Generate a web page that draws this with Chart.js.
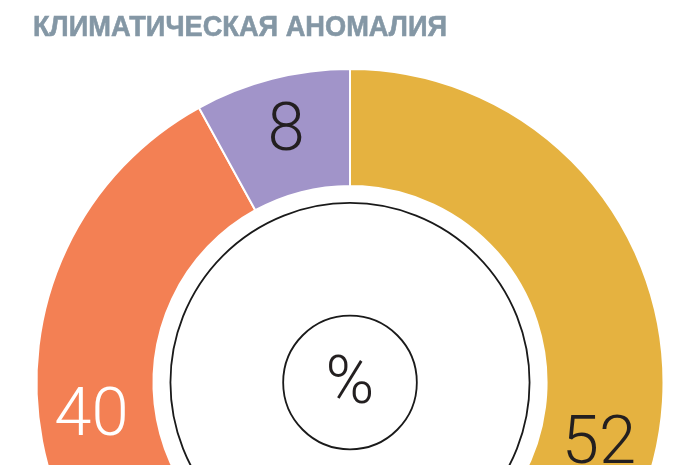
<!DOCTYPE html>
<html><head><meta charset="utf-8">
<script src="https://cdn.jsdelivr.net/npm/chart.js@4"></script>
<style>
html,body{margin:0;padding:0;background:#fff;overflow:hidden;width:700px;height:465px;}
#wrap{position:absolute;left:0;top:0;width:700px;height:697px;}
#title{position:absolute;left:33px;top:7px;font-family:"Liberation Sans","Arial",sans-serif;font-weight:bold;font-size:29px;color:#8497a5;-webkit-text-stroke:0.6px #8497a5;white-space:nowrap;line-height:38px;transform-origin:0 0;}
</style></head>
<body>
<div id="wrap"><canvas id="c" width="700" height="697"></canvas></div>
<div id="title">КЛИМАТИЧЕСКАЯ АНОМАЛИЯ</div>
<script>
const categories = ["Жёлтый", "Оранжевый", "Фиолетовый"];
const values = [52, 40, 8];
const colors = ["#e5b240", "#f38054", "#a194c9"];
const labelColors = ["#231f20", "#ffffff", "#231f20"];
const labelPos = [0.558, 0.52, 0.5];
const centerText = "%";

(function fitTitle(){
  const t = document.getElementById('title');
  const w = t.getBoundingClientRect().width;
  t.style.transform = 'scaleX(' + (414 / w) + ')';
})();

const numFont = '300 67px "Roboto", "Lato", "Liberation Sans", sans-serif';

const decor = {
  id: 'decor',
  afterDatasetsDraw(chart) {
    const ctx = chart.ctx;
    const meta = chart.getDatasetMeta(0);
    const a0 = meta.data[0];
    const cx = a0.x, cy = a0.y;
    const inner = a0.innerRadius;
    ctx.save();
    ctx.strokeStyle = '#1a1a1a';
    ctx.lineWidth = 1.8;
    ctx.beginPath(); ctx.arc(cx, cy, inner - 17, 0, Math.PI * 2); ctx.stroke();
    ctx.beginPath(); ctx.arc(cx, cy, inner * 0.34, 0, Math.PI * 2); ctx.stroke();
    ctx.fillStyle = '#231f20';
    ctx.font = '300 66px "Roboto", "Lato", "Liberation Sans", sans-serif';
    ctx.textAlign = 'center'; ctx.textBaseline = 'middle';
    ctx.fillText(centerText, cx, cy + 4);
    ctx.font = numFont;
    meta.data.forEach((arc, i) => {
      const ang = arc.startAngle + (arc.endAngle - arc.startAngle) * labelPos[i];
      const r = (arc.innerRadius + arc.outerRadius) / 2 + 2;
      ctx.fillStyle = labelColors[i];
      ctx.fillText(String(values[i]), cx + r * Math.cos(ang) - (i === 1 ? 4 : 0), cy + r * Math.sin(ang));
    });
    ctx.restore();
  }
};

new Chart(document.getElementById('c'), {
  type: 'doughnut',
  data: {
    labels: categories,
    datasets: [{
      data: values,
      backgroundColor: colors,
      borderColor: '#ffffff',
      borderWidth: 2
    }]
  },
  options: {
    responsive: false,
    devicePixelRatio: 1,
    animation: false,
    cutout: '62.7%',
    layout: { padding: { top: 68, left: 35, right: 35, bottom: 0 } },
    plugins: { legend: { display: false }, tooltip: { enabled: false }, title: { display: false } }
  },
  plugins: [decor]
});
</script>
</body></html>
